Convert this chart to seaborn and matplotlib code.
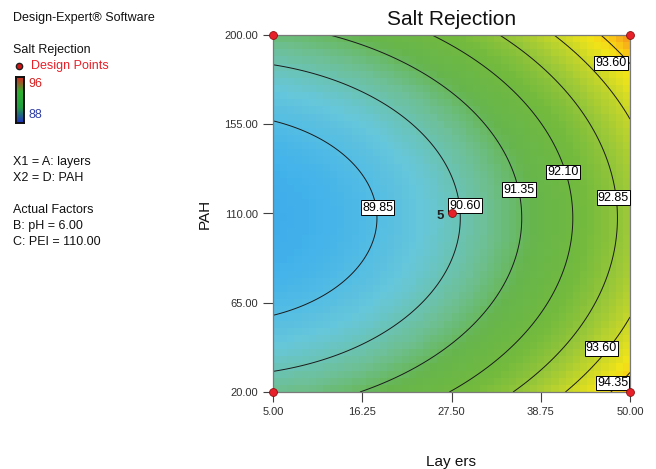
import numpy as np
import pandas as pd
import matplotlib
matplotlib.use("Agg")
import matplotlib.pyplot as plt
from matplotlib.colors import LinearSegmentedColormap
import seaborn as sns

# ---------------- data ----------------
layers_range = [5.0, 50.0]
pah_range = [20.0, 200.0]
x_ticks = [5.00, 16.25, 27.50, 38.75, 50.00]
y_ticks = [20.00, 65.00, 110.00, 155.00, 200.00]
contour_levels = [89.85, 90.60, 91.35, 92.10, 92.85, 93.60, 94.35]
# fitted response-surface coefficients (Salt Rejection vs layers, PAH)
coef_intercept = 89.345
coef_layers = 0.0203
coef_layers_sq = 0.001392
coef_pah_sq = 0.00021
pah_optimum = 107.7
# design points
dp_layers = [5.0, 5.0, 50.0, 50.0, 27.5]
dp_pah = [20.0, 200.0, 20.0, 200.0, 110.0]
dp_reps = [1, 1, 1, 1, 5]
# which contour levels carry a label
labelled_levels = [93.60, 92.10, 91.35, 92.85, 89.85, 90.60, 93.60, 94.35]
cbar_low, cbar_high = 88, 96

# label placement (layers, PAH) - layout only
label_spots = [(47.6, 186.0), (41.6, 131.0), (36.0, 122.0), (47.9, 118.0),
               (18.2, 113.0), (29.2, 114.0), (46.4, 42.0), (47.8, 24.5)]

# ---------------- style ----------------
sns.set_style("white")
plt.rcParams['font.family'] = ['Liberation Sans', 'DejaVu Sans']


def salt_rejection(layers, pah):
    u = layers - layers_range[0]
    return (coef_intercept + coef_layers * u + coef_layers_sq * u ** 2
            + coef_pah_sq * (pah - pah_optimum) ** 2)


W, H = 656, 469
fig = plt.figure(figsize=(W / 100, H / 100), dpi=100)
ax = fig.add_axes([273 / W, 1 - 392 / H, 357 / W, 357 / H])

def zc(v):
    return (v - cbar_low) / (cbar_high - cbar_low)

cmap = LinearSegmentedColormap.from_list("de", [
    (0.0, (0.16, 0.35, 0.78)),
    (zc(89.0), (0.21, 0.63, 0.91)),
    (zc(89.5), (0.26, 0.70, 0.92)),
    (zc(90.2), (0.40, 0.78, 0.86)),
    (zc(90.9), (0.43, 0.75, 0.58)),
    (zc(91.5), (0.40, 0.71, 0.30)),
    (zc(92.3), (0.45, 0.73, 0.24)),
    (zc(93.0), (0.60, 0.78, 0.22)),
    (zc(93.6), (0.78, 0.84, 0.16)),
    (zc(94.1), (0.94, 0.89, 0.10)),
    (zc(94.45), (0.98, 0.80, 0.08)),
    (zc(94.8), (0.96, 0.60, 0.10)),
    (1.0, (0.90, 0.16, 0.12)),
])

# blocky colour field like Design-Expert
n = 50
xe = np.linspace(layers_range[0], layers_range[1], n + 1)
ye = np.linspace(pah_range[0], pah_range[1], n + 1)
xc = 0.5 * (xe[:-1] + xe[1:])
yc = 0.5 * (ye[:-1] + ye[1:])
XC, YC = np.meshgrid(xc, yc)
ax.pcolormesh(xe, ye, salt_rejection(XC, YC), cmap=cmap, vmin=cbar_low, vmax=cbar_high,
              shading='flat', zorder=1)

# smooth contour lines
xf = np.linspace(layers_range[0], layers_range[1], 300)
yf = np.linspace(pah_range[0], pah_range[1], 300)
XF, YF = np.meshgrid(xf, yf)
cs = ax.contour(XF, YF, salt_rejection(XF, YF), levels=contour_levels,
                colors='#1a1a1a', linewidths=0.7, zorder=2)
for lv, (lx, ly) in zip(labelled_levels, label_spots):
    ax.text(lx, ly, f"{lv:.2f}", ha='center', va='center', fontsize=9, color='black',
            zorder=4, clip_on=False,
            bbox=dict(facecolor='white', edgecolor='black', pad=0.9, linewidth=0.7))

# design points
dp = pd.DataFrame({"layers": dp_layers, "pah": dp_pah, "reps": dp_reps})
sns.scatterplot(data=dp, x="layers", y="pah", ax=ax, color='#e8202a', edgecolor='#8a1010',
                linewidth=0.6, s=32, zorder=5, clip_on=False, legend=False)
for _, r in dp.iterrows():
    if r["reps"] > 1:
        ax.text(r["layers"] - 0.9, r["pah"] - 1.5, f"{int(r['reps'])}", ha='right', va='center',
                fontsize=9.5, fontweight='bold', color='#202020', zorder=6)

ax.set_xlim(layers_range)
ax.set_ylim(pah_range)
ax.set_xticks(x_ticks)
ax.set_yticks(y_ticks)
ax.set_xticklabels([f"{v:.2f}" for v in x_ticks])
ax.set_yticklabels([f"{v:.2f}" for v in y_ticks])
ax.tick_params(axis='both', direction='out', length=7, width=0.8, color='#404040',
               labelsize=8, labelcolor='#303030', pad=4, left=True, bottom=True)
for s in ax.spines.values():
    s.set_color('#7a7a7a')
    s.set_linewidth(0.9)
ax.set_title("Salt Rejection", fontsize=15, pad=7, color='#111111')
ax.set_xlabel("Lay ers", fontsize=11, labelpad=27, color='#111111')
ax.set_ylabel("PAH", fontsize=11, labelpad=9, color='#111111')

# ---------------- left info panel ----------------
def ftext(x, y, s, **kw):
    kw.setdefault('fontsize', 9)
    kw.setdefault('color', '#111111')
    fig.text(x / W, 1 - y / H, s, va='center', ha='left', **kw)


ftext(13, 18, "Design-Expert® Software")
ftext(13, 50, "Salt Rejection")
ftext(31, 66, "Design Points", color='#e8202a')
fig.add_artist(matplotlib.lines.Line2D([19 / W], [1 - 66 / H], marker='o', markersize=4.5,
                                      markerfacecolor='#d01818', markeredgecolor='#202020',
                                      markeredgewidth=1.0, transform=fig.transFigure))
cax = fig.add_axes([16 / W, 1 - 123 / H, 8 / W, 46 / H])
grad_cmap = LinearSegmentedColormap.from_list("leg", ['#2030c0', '#20a040', '#30b030', '#e02020'])
cax.imshow(np.linspace(1, 0, 64).reshape(-1, 1), aspect='auto', cmap=grad_cmap)
cax.set_xticks([])
cax.set_yticks([])
for s in cax.spines.values():
    s.set_color('#101010')
    s.set_linewidth(1.4)
ftext(28, 84, f"{cbar_high}", color='#d82020')
ftext(28, 115, f"{cbar_low}", color='#3040a8')
ftext(13, 162, "X1 = A: layers")
ftext(13, 178, "X2 = D: PAH")
ftext(13, 210, "Actual Factors")
ftext(13, 226, "B: pH = 6.00")
ftext(13, 242, "C: PEI = 110.00")

fig.savefig("out.png", dpi=100)
